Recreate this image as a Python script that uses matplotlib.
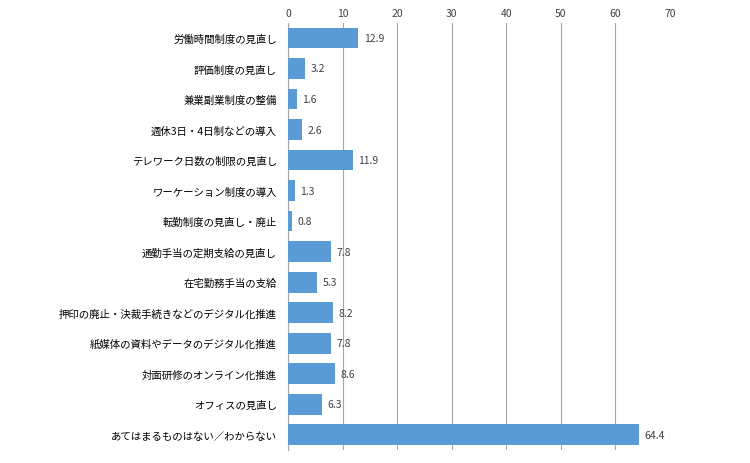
import matplotlib.pyplot as plt

plt.rcParams["font.family"] = "Noto Sans CJK JP"

labels = [
    "労働時間制度の見直し",
    "評価制度の見直し",
    "兼業副業制度の整備",
    "週休3日・4日制などの導入",
    "テレワーク日数の制限の見直し",
    "ワーケーション制度の導入",
    "転勤制度の見直し・廃止",
    "通勤手当の定期支給の見直し",
    "在宅勤務手当の支給",
    "押印の廃止・決裁手続きなどのデジタル化推進",
    "紙媒体の資料やデータのデジタル化推進",
    "対面研修のオンライン化推進",
    "オフィスの見直し",
    "あてはまるものはない／わからない",
]
values = [12.9, 3.2, 1.6, 2.6, 11.9, 1.3, 0.8, 7.8, 5.3, 8.2, 7.8, 8.6, 6.3, 64.4]
xticks = [0, 10, 20, 30, 40, 50, 60, 70]

fig = plt.figure(figsize=(7.5, 4.64), dpi=100)
ax = fig.add_axes([0.384, 0.028, 0.509, 0.921])

y = list(range(len(labels)))
ax.barh(y, values, height=0.68, color="#5B9BD5", zorder=3)
for yi, v in zip(y, values):
    ax.text(v + 1, yi, f"{v}", va="center", ha="left", fontsize=7.5, color="#404040")

ax.set_yticks(y)
ax.set_yticklabels(labels, fontsize=7.5)
ax.set_ylim(len(labels) - 0.5, -0.5)
ax.set_xlim(0, 70)
ax.set_xticks(xticks)
ax.xaxis.tick_top()
ax.tick_params(axis="x", labelsize=7.5, length=0, colors="#404040")
ax.tick_params(axis="y", length=0, pad=8)
ax.grid(axis="x", color="#A6A6A6", linewidth=0.8, zorder=0)
for s in ["top", "right", "bottom"]:
    ax.spines[s].set_visible(False)
ax.spines["left"].set_color("#A6A6A6")

fig.savefig("out.png", dpi=100)
